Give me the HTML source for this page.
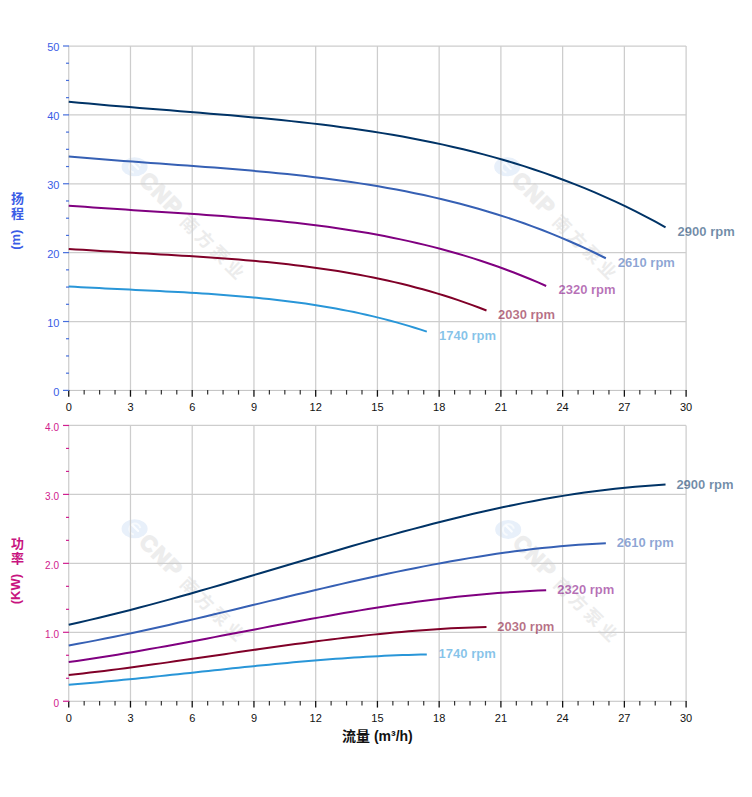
<!DOCTYPE html><html><head><meta charset="utf-8"><style>html,body{margin:0;padding:0;background:#fff;}svg{display:block;}</style></head><body>
<svg width="752" height="797" viewBox="0 0 752 797" font-family="'Liberation Sans', Arial, sans-serif">
<rect width="752" height="797" fill="#fff"/>
<g transform="translate(134.6 166.8) rotate(45)"><ellipse cx="0" cy="0" rx="13" ry="9.5" transform="rotate(-45)" fill="#e8f0fa"/><path d="M3.5 -4.5 A5.5 5.5 0 1 0 3.5 4.5" fill="none" stroke="#f7fafd" stroke-width="2"/><path d="M-4 -1 L4 -1" stroke="#fbfdff" stroke-width="2.2" stroke-linecap="round"/><text x="12.8" y="7.8" font-size="22" font-weight="bold" fill="#ededed" stroke="#ededed" stroke-width="1.4" letter-spacing="1.4">CNP</text><text x="71" y="8.2" font-size="17.5" font-weight="bold" fill="#ececec" letter-spacing="3.8" font-family="'Liberation Sans', 'Noto Sans CJK SC', sans-serif">南方泵业</text></g>
<g transform="translate(507.2 166.8) rotate(45)"><ellipse cx="0" cy="0" rx="13" ry="9.5" transform="rotate(-45)" fill="#e8f0fa"/><path d="M3.5 -4.5 A5.5 5.5 0 1 0 3.5 4.5" fill="none" stroke="#f7fafd" stroke-width="2"/><path d="M-4 -1 L4 -1" stroke="#fbfdff" stroke-width="2.2" stroke-linecap="round"/><text x="12.8" y="7.8" font-size="22" font-weight="bold" fill="#ededed" stroke="#ededed" stroke-width="1.4" letter-spacing="1.4">CNP</text><text x="71" y="8.2" font-size="17.5" font-weight="bold" fill="#ececec" letter-spacing="3.8" font-family="'Liberation Sans', 'Noto Sans CJK SC', sans-serif">南方泵业</text></g>
<g transform="translate(134.6 528.8) rotate(45)"><ellipse cx="0" cy="0" rx="13" ry="9.5" transform="rotate(-45)" fill="#e8f0fa"/><path d="M3.5 -4.5 A5.5 5.5 0 1 0 3.5 4.5" fill="none" stroke="#f7fafd" stroke-width="2"/><path d="M-4 -1 L4 -1" stroke="#fbfdff" stroke-width="2.2" stroke-linecap="round"/><text x="12.8" y="7.8" font-size="22" font-weight="bold" fill="#ededed" stroke="#ededed" stroke-width="1.4" letter-spacing="1.4">CNP</text><text x="71" y="8.2" font-size="17.5" font-weight="bold" fill="#ececec" letter-spacing="3.8" font-family="'Liberation Sans', 'Noto Sans CJK SC', sans-serif">南方泵业</text></g>
<g transform="translate(508.2 529.4) rotate(45)"><ellipse cx="0" cy="0" rx="13" ry="9.5" transform="rotate(-45)" fill="#e8f0fa"/><path d="M3.5 -4.5 A5.5 5.5 0 1 0 3.5 4.5" fill="none" stroke="#f7fafd" stroke-width="2"/><path d="M-4 -1 L4 -1" stroke="#fbfdff" stroke-width="2.2" stroke-linecap="round"/><text x="12.8" y="7.8" font-size="22" font-weight="bold" fill="#ededed" stroke="#ededed" stroke-width="1.4" letter-spacing="1.4">CNP</text><text x="71" y="8.2" font-size="17.5" font-weight="bold" fill="#ececec" letter-spacing="3.8" font-family="'Liberation Sans', 'Noto Sans CJK SC', sans-serif">南方泵业</text></g>
<g>
<line x1="68.74" y1="46.00" x2="68.74" y2="390.40" stroke="#cdcdcd" stroke-width="1.25"/>
<line x1="130.48" y1="46.00" x2="130.48" y2="390.40" stroke="#cdcdcd" stroke-width="1.25"/>
<line x1="192.21" y1="46.00" x2="192.21" y2="390.40" stroke="#cdcdcd" stroke-width="1.25"/>
<line x1="253.95" y1="46.00" x2="253.95" y2="390.40" stroke="#cdcdcd" stroke-width="1.25"/>
<line x1="315.69" y1="46.00" x2="315.69" y2="390.40" stroke="#cdcdcd" stroke-width="1.25"/>
<line x1="377.43" y1="46.00" x2="377.43" y2="390.40" stroke="#cdcdcd" stroke-width="1.25"/>
<line x1="439.16" y1="46.00" x2="439.16" y2="390.40" stroke="#cdcdcd" stroke-width="1.25"/>
<line x1="500.90" y1="46.00" x2="500.90" y2="390.40" stroke="#cdcdcd" stroke-width="1.25"/>
<line x1="562.64" y1="46.00" x2="562.64" y2="390.40" stroke="#cdcdcd" stroke-width="1.25"/>
<line x1="624.37" y1="46.00" x2="624.37" y2="390.40" stroke="#cdcdcd" stroke-width="1.25"/>
<line x1="686.11" y1="46.00" x2="686.11" y2="390.40" stroke="#cdcdcd" stroke-width="1.25"/>
<line x1="68.74" y1="321.52" x2="686.11" y2="321.52" stroke="#cdcdcd" stroke-width="1.25"/>
<line x1="68.74" y1="252.64" x2="686.11" y2="252.64" stroke="#cdcdcd" stroke-width="1.25"/>
<line x1="68.74" y1="183.76" x2="686.11" y2="183.76" stroke="#cdcdcd" stroke-width="1.25"/>
<line x1="68.74" y1="114.88" x2="686.11" y2="114.88" stroke="#cdcdcd" stroke-width="1.25"/>
<line x1="68.74" y1="46.00" x2="686.11" y2="46.00" stroke="#cdcdcd" stroke-width="1.25"/>
<line x1="68.74" y1="425.45" x2="68.74" y2="701.25" stroke="#cdcdcd" stroke-width="1.25"/>
<line x1="130.48" y1="425.45" x2="130.48" y2="701.25" stroke="#cdcdcd" stroke-width="1.25"/>
<line x1="192.21" y1="425.45" x2="192.21" y2="701.25" stroke="#cdcdcd" stroke-width="1.25"/>
<line x1="253.95" y1="425.45" x2="253.95" y2="701.25" stroke="#cdcdcd" stroke-width="1.25"/>
<line x1="315.69" y1="425.45" x2="315.69" y2="701.25" stroke="#cdcdcd" stroke-width="1.25"/>
<line x1="377.43" y1="425.45" x2="377.43" y2="701.25" stroke="#cdcdcd" stroke-width="1.25"/>
<line x1="439.16" y1="425.45" x2="439.16" y2="701.25" stroke="#cdcdcd" stroke-width="1.25"/>
<line x1="500.90" y1="425.45" x2="500.90" y2="701.25" stroke="#cdcdcd" stroke-width="1.25"/>
<line x1="562.64" y1="425.45" x2="562.64" y2="701.25" stroke="#cdcdcd" stroke-width="1.25"/>
<line x1="624.37" y1="425.45" x2="624.37" y2="701.25" stroke="#cdcdcd" stroke-width="1.25"/>
<line x1="686.11" y1="425.45" x2="686.11" y2="701.25" stroke="#cdcdcd" stroke-width="1.25"/>
<line x1="68.74" y1="632.30" x2="686.11" y2="632.30" stroke="#cdcdcd" stroke-width="1.25"/>
<line x1="68.74" y1="563.35" x2="686.11" y2="563.35" stroke="#cdcdcd" stroke-width="1.25"/>
<line x1="68.74" y1="494.40" x2="686.11" y2="494.40" stroke="#cdcdcd" stroke-width="1.25"/>
<line x1="68.74" y1="425.45" x2="686.11" y2="425.45" stroke="#cdcdcd" stroke-width="1.25"/>
</g>
<line x1="68.74" y1="390.40" x2="686.61" y2="390.40" stroke="#c0c0c0"/>
<line x1="68.74" y1="390.10" x2="68.74" y2="396.70" stroke="#111" stroke-width="1.3"/>
<line x1="84.17" y1="390.10" x2="84.17" y2="394.60" stroke="#333" stroke-width="1.2"/>
<line x1="99.61" y1="390.10" x2="99.61" y2="394.60" stroke="#333" stroke-width="1.2"/>
<line x1="115.04" y1="390.10" x2="115.04" y2="394.60" stroke="#333" stroke-width="1.2"/>
<line x1="130.48" y1="390.10" x2="130.48" y2="396.70" stroke="#111" stroke-width="1.3"/>
<line x1="145.91" y1="390.10" x2="145.91" y2="394.60" stroke="#333" stroke-width="1.2"/>
<line x1="161.35" y1="390.10" x2="161.35" y2="394.60" stroke="#333" stroke-width="1.2"/>
<line x1="176.78" y1="390.10" x2="176.78" y2="394.60" stroke="#333" stroke-width="1.2"/>
<line x1="192.21" y1="390.10" x2="192.21" y2="396.70" stroke="#111" stroke-width="1.3"/>
<line x1="207.65" y1="390.10" x2="207.65" y2="394.60" stroke="#333" stroke-width="1.2"/>
<line x1="223.08" y1="390.10" x2="223.08" y2="394.60" stroke="#333" stroke-width="1.2"/>
<line x1="238.52" y1="390.10" x2="238.52" y2="394.60" stroke="#333" stroke-width="1.2"/>
<line x1="253.95" y1="390.10" x2="253.95" y2="396.70" stroke="#111" stroke-width="1.3"/>
<line x1="269.39" y1="390.10" x2="269.39" y2="394.60" stroke="#333" stroke-width="1.2"/>
<line x1="284.82" y1="390.10" x2="284.82" y2="394.60" stroke="#333" stroke-width="1.2"/>
<line x1="300.25" y1="390.10" x2="300.25" y2="394.60" stroke="#333" stroke-width="1.2"/>
<line x1="315.69" y1="390.10" x2="315.69" y2="396.70" stroke="#111" stroke-width="1.3"/>
<line x1="331.12" y1="390.10" x2="331.12" y2="394.60" stroke="#333" stroke-width="1.2"/>
<line x1="346.56" y1="390.10" x2="346.56" y2="394.60" stroke="#333" stroke-width="1.2"/>
<line x1="361.99" y1="390.10" x2="361.99" y2="394.60" stroke="#333" stroke-width="1.2"/>
<line x1="377.43" y1="390.10" x2="377.43" y2="396.70" stroke="#111" stroke-width="1.3"/>
<line x1="392.86" y1="390.10" x2="392.86" y2="394.60" stroke="#333" stroke-width="1.2"/>
<line x1="408.29" y1="390.10" x2="408.29" y2="394.60" stroke="#333" stroke-width="1.2"/>
<line x1="423.73" y1="390.10" x2="423.73" y2="394.60" stroke="#333" stroke-width="1.2"/>
<line x1="439.16" y1="390.10" x2="439.16" y2="396.70" stroke="#111" stroke-width="1.3"/>
<line x1="454.60" y1="390.10" x2="454.60" y2="394.60" stroke="#333" stroke-width="1.2"/>
<line x1="470.03" y1="390.10" x2="470.03" y2="394.60" stroke="#333" stroke-width="1.2"/>
<line x1="485.46" y1="390.10" x2="485.46" y2="394.60" stroke="#333" stroke-width="1.2"/>
<line x1="500.90" y1="390.10" x2="500.90" y2="396.70" stroke="#111" stroke-width="1.3"/>
<line x1="516.33" y1="390.10" x2="516.33" y2="394.60" stroke="#333" stroke-width="1.2"/>
<line x1="531.77" y1="390.10" x2="531.77" y2="394.60" stroke="#333" stroke-width="1.2"/>
<line x1="547.20" y1="390.10" x2="547.20" y2="394.60" stroke="#333" stroke-width="1.2"/>
<line x1="562.64" y1="390.10" x2="562.64" y2="396.70" stroke="#111" stroke-width="1.3"/>
<line x1="578.07" y1="390.10" x2="578.07" y2="394.60" stroke="#333" stroke-width="1.2"/>
<line x1="593.50" y1="390.10" x2="593.50" y2="394.60" stroke="#333" stroke-width="1.2"/>
<line x1="608.94" y1="390.10" x2="608.94" y2="394.60" stroke="#333" stroke-width="1.2"/>
<line x1="624.37" y1="390.10" x2="624.37" y2="396.70" stroke="#111" stroke-width="1.3"/>
<line x1="639.81" y1="390.10" x2="639.81" y2="394.60" stroke="#333" stroke-width="1.2"/>
<line x1="655.24" y1="390.10" x2="655.24" y2="394.60" stroke="#333" stroke-width="1.2"/>
<line x1="670.68" y1="390.10" x2="670.68" y2="394.60" stroke="#333" stroke-width="1.2"/>
<line x1="686.11" y1="390.10" x2="686.11" y2="396.70" stroke="#111" stroke-width="1.3"/>
<line x1="68.74" y1="701.25" x2="686.61" y2="701.25" stroke="#c0c0c0"/>
<line x1="68.74" y1="700.95" x2="68.74" y2="707.55" stroke="#111" stroke-width="1.3"/>
<line x1="84.17" y1="700.95" x2="84.17" y2="705.45" stroke="#333" stroke-width="1.2"/>
<line x1="99.61" y1="700.95" x2="99.61" y2="705.45" stroke="#333" stroke-width="1.2"/>
<line x1="115.04" y1="700.95" x2="115.04" y2="705.45" stroke="#333" stroke-width="1.2"/>
<line x1="130.48" y1="700.95" x2="130.48" y2="707.55" stroke="#111" stroke-width="1.3"/>
<line x1="145.91" y1="700.95" x2="145.91" y2="705.45" stroke="#333" stroke-width="1.2"/>
<line x1="161.35" y1="700.95" x2="161.35" y2="705.45" stroke="#333" stroke-width="1.2"/>
<line x1="176.78" y1="700.95" x2="176.78" y2="705.45" stroke="#333" stroke-width="1.2"/>
<line x1="192.21" y1="700.95" x2="192.21" y2="707.55" stroke="#111" stroke-width="1.3"/>
<line x1="207.65" y1="700.95" x2="207.65" y2="705.45" stroke="#333" stroke-width="1.2"/>
<line x1="223.08" y1="700.95" x2="223.08" y2="705.45" stroke="#333" stroke-width="1.2"/>
<line x1="238.52" y1="700.95" x2="238.52" y2="705.45" stroke="#333" stroke-width="1.2"/>
<line x1="253.95" y1="700.95" x2="253.95" y2="707.55" stroke="#111" stroke-width="1.3"/>
<line x1="269.39" y1="700.95" x2="269.39" y2="705.45" stroke="#333" stroke-width="1.2"/>
<line x1="284.82" y1="700.95" x2="284.82" y2="705.45" stroke="#333" stroke-width="1.2"/>
<line x1="300.25" y1="700.95" x2="300.25" y2="705.45" stroke="#333" stroke-width="1.2"/>
<line x1="315.69" y1="700.95" x2="315.69" y2="707.55" stroke="#111" stroke-width="1.3"/>
<line x1="331.12" y1="700.95" x2="331.12" y2="705.45" stroke="#333" stroke-width="1.2"/>
<line x1="346.56" y1="700.95" x2="346.56" y2="705.45" stroke="#333" stroke-width="1.2"/>
<line x1="361.99" y1="700.95" x2="361.99" y2="705.45" stroke="#333" stroke-width="1.2"/>
<line x1="377.43" y1="700.95" x2="377.43" y2="707.55" stroke="#111" stroke-width="1.3"/>
<line x1="392.86" y1="700.95" x2="392.86" y2="705.45" stroke="#333" stroke-width="1.2"/>
<line x1="408.29" y1="700.95" x2="408.29" y2="705.45" stroke="#333" stroke-width="1.2"/>
<line x1="423.73" y1="700.95" x2="423.73" y2="705.45" stroke="#333" stroke-width="1.2"/>
<line x1="439.16" y1="700.95" x2="439.16" y2="707.55" stroke="#111" stroke-width="1.3"/>
<line x1="454.60" y1="700.95" x2="454.60" y2="705.45" stroke="#333" stroke-width="1.2"/>
<line x1="470.03" y1="700.95" x2="470.03" y2="705.45" stroke="#333" stroke-width="1.2"/>
<line x1="485.46" y1="700.95" x2="485.46" y2="705.45" stroke="#333" stroke-width="1.2"/>
<line x1="500.90" y1="700.95" x2="500.90" y2="707.55" stroke="#111" stroke-width="1.3"/>
<line x1="516.33" y1="700.95" x2="516.33" y2="705.45" stroke="#333" stroke-width="1.2"/>
<line x1="531.77" y1="700.95" x2="531.77" y2="705.45" stroke="#333" stroke-width="1.2"/>
<line x1="547.20" y1="700.95" x2="547.20" y2="705.45" stroke="#333" stroke-width="1.2"/>
<line x1="562.64" y1="700.95" x2="562.64" y2="707.55" stroke="#111" stroke-width="1.3"/>
<line x1="578.07" y1="700.95" x2="578.07" y2="705.45" stroke="#333" stroke-width="1.2"/>
<line x1="593.50" y1="700.95" x2="593.50" y2="705.45" stroke="#333" stroke-width="1.2"/>
<line x1="608.94" y1="700.95" x2="608.94" y2="705.45" stroke="#333" stroke-width="1.2"/>
<line x1="624.37" y1="700.95" x2="624.37" y2="707.55" stroke="#111" stroke-width="1.3"/>
<line x1="639.81" y1="700.95" x2="639.81" y2="705.45" stroke="#333" stroke-width="1.2"/>
<line x1="655.24" y1="700.95" x2="655.24" y2="705.45" stroke="#333" stroke-width="1.2"/>
<line x1="670.68" y1="700.95" x2="670.68" y2="705.45" stroke="#333" stroke-width="1.2"/>
<line x1="686.11" y1="700.95" x2="686.11" y2="707.55" stroke="#111" stroke-width="1.3"/>
<line x1="63" y1="390.40" x2="69" y2="390.40" stroke="#466edc" stroke-width="1.2"/>
<line x1="66" y1="373.18" x2="69" y2="373.18" stroke="#466edc" stroke-width="1.2"/>
<line x1="66" y1="355.96" x2="69" y2="355.96" stroke="#466edc" stroke-width="1.2"/>
<line x1="66" y1="338.74" x2="69" y2="338.74" stroke="#466edc" stroke-width="1.2"/>
<line x1="63" y1="321.52" x2="69" y2="321.52" stroke="#466edc" stroke-width="1.2"/>
<line x1="66" y1="304.30" x2="69" y2="304.30" stroke="#466edc" stroke-width="1.2"/>
<line x1="66" y1="287.08" x2="69" y2="287.08" stroke="#466edc" stroke-width="1.2"/>
<line x1="66" y1="269.86" x2="69" y2="269.86" stroke="#466edc" stroke-width="1.2"/>
<line x1="63" y1="252.64" x2="69" y2="252.64" stroke="#466edc" stroke-width="1.2"/>
<line x1="66" y1="235.42" x2="69" y2="235.42" stroke="#466edc" stroke-width="1.2"/>
<line x1="66" y1="218.20" x2="69" y2="218.20" stroke="#466edc" stroke-width="1.2"/>
<line x1="66" y1="200.98" x2="69" y2="200.98" stroke="#466edc" stroke-width="1.2"/>
<line x1="63" y1="183.76" x2="69" y2="183.76" stroke="#466edc" stroke-width="1.2"/>
<line x1="66" y1="166.54" x2="69" y2="166.54" stroke="#466edc" stroke-width="1.2"/>
<line x1="66" y1="149.32" x2="69" y2="149.32" stroke="#466edc" stroke-width="1.2"/>
<line x1="66" y1="132.10" x2="69" y2="132.10" stroke="#466edc" stroke-width="1.2"/>
<line x1="63" y1="114.88" x2="69" y2="114.88" stroke="#466edc" stroke-width="1.2"/>
<line x1="66" y1="97.66" x2="69" y2="97.66" stroke="#466edc" stroke-width="1.2"/>
<line x1="66" y1="80.44" x2="69" y2="80.44" stroke="#466edc" stroke-width="1.2"/>
<line x1="66" y1="63.22" x2="69" y2="63.22" stroke="#466edc" stroke-width="1.2"/>
<line x1="63" y1="46.00" x2="69" y2="46.00" stroke="#466edc" stroke-width="1.2"/>
<line x1="63" y1="701.25" x2="69" y2="701.25" stroke="#d02090" stroke-width="1.2"/>
<line x1="66" y1="678.27" x2="69" y2="678.27" stroke="#d02090" stroke-width="1.2"/>
<line x1="66" y1="655.28" x2="69" y2="655.28" stroke="#d02090" stroke-width="1.2"/>
<line x1="63" y1="632.30" x2="69" y2="632.30" stroke="#d02090" stroke-width="1.2"/>
<line x1="66" y1="609.32" x2="69" y2="609.32" stroke="#d02090" stroke-width="1.2"/>
<line x1="66" y1="586.33" x2="69" y2="586.33" stroke="#d02090" stroke-width="1.2"/>
<line x1="63" y1="563.35" x2="69" y2="563.35" stroke="#d02090" stroke-width="1.2"/>
<line x1="66" y1="540.37" x2="69" y2="540.37" stroke="#d02090" stroke-width="1.2"/>
<line x1="66" y1="517.38" x2="69" y2="517.38" stroke="#d02090" stroke-width="1.2"/>
<line x1="63" y1="494.40" x2="69" y2="494.40" stroke="#d02090" stroke-width="1.2"/>
<line x1="66" y1="471.42" x2="69" y2="471.42" stroke="#d02090" stroke-width="1.2"/>
<line x1="66" y1="448.43" x2="69" y2="448.43" stroke="#d02090" stroke-width="1.2"/>
<line x1="63" y1="425.45" x2="69" y2="425.45" stroke="#d02090" stroke-width="1.2"/>
<text x="68.74" y="411" font-size="11" text-anchor="middle" fill="#111">0</text>
<text x="68.74" y="722" font-size="11" text-anchor="middle" fill="#111">0</text>
<text x="130.48" y="411" font-size="11" text-anchor="middle" fill="#111">3</text>
<text x="130.48" y="722" font-size="11" text-anchor="middle" fill="#111">3</text>
<text x="192.21" y="411" font-size="11" text-anchor="middle" fill="#111">6</text>
<text x="192.21" y="722" font-size="11" text-anchor="middle" fill="#111">6</text>
<text x="253.95" y="411" font-size="11" text-anchor="middle" fill="#111">9</text>
<text x="253.95" y="722" font-size="11" text-anchor="middle" fill="#111">9</text>
<text x="315.69" y="411" font-size="11" text-anchor="middle" fill="#111">12</text>
<text x="315.69" y="722" font-size="11" text-anchor="middle" fill="#111">12</text>
<text x="377.43" y="411" font-size="11" text-anchor="middle" fill="#111">15</text>
<text x="377.43" y="722" font-size="11" text-anchor="middle" fill="#111">15</text>
<text x="439.16" y="411" font-size="11" text-anchor="middle" fill="#111">18</text>
<text x="439.16" y="722" font-size="11" text-anchor="middle" fill="#111">18</text>
<text x="500.90" y="411" font-size="11" text-anchor="middle" fill="#111">21</text>
<text x="500.90" y="722" font-size="11" text-anchor="middle" fill="#111">21</text>
<text x="562.64" y="411" font-size="11" text-anchor="middle" fill="#111">24</text>
<text x="562.64" y="722" font-size="11" text-anchor="middle" fill="#111">24</text>
<text x="624.37" y="411" font-size="11" text-anchor="middle" fill="#111">27</text>
<text x="624.37" y="722" font-size="11" text-anchor="middle" fill="#111">27</text>
<text x="686.11" y="411" font-size="11" text-anchor="middle" fill="#111">30</text>
<text x="686.11" y="722" font-size="11" text-anchor="middle" fill="#111">30</text>
<text x="59.4" y="395.70" font-size="11" text-anchor="end" fill="#3a5ce6">0</text>
<text x="59.4" y="326.82" font-size="11" text-anchor="end" fill="#3a5ce6">10</text>
<text x="59.4" y="257.94" font-size="11" text-anchor="end" fill="#3a5ce6">20</text>
<text x="59.4" y="189.06" font-size="11" text-anchor="end" fill="#3a5ce6">30</text>
<text x="59.4" y="120.18" font-size="11" text-anchor="end" fill="#3a5ce6">40</text>
<text x="59.4" y="51.30" font-size="11" text-anchor="end" fill="#3a5ce6">50</text>
<text x="59" y="706.55" font-size="10" text-anchor="end" fill="#d0208c">0</text>
<text x="59" y="637.60" font-size="10" text-anchor="end" fill="#d0208c">1.0</text>
<text x="59" y="568.65" font-size="10" text-anchor="end" fill="#d0208c">2.0</text>
<text x="59" y="499.70" font-size="10" text-anchor="end" fill="#d0208c">3.0</text>
<text x="59" y="430.75" font-size="10" text-anchor="end" fill="#d0208c">4.0</text>
<path d="M68.74 101.69 L78.86 102.66 L88.97 103.60 L99.09 104.51 L109.20 105.39 L119.32 106.26 L129.43 107.10 L139.55 107.93 L149.66 108.75 L159.78 109.56 L169.89 110.37 L180.01 111.18 L190.12 111.99 L200.24 112.81 L210.35 113.64 L220.47 114.49 L230.58 115.35 L240.70 116.23 L250.81 117.15 L260.93 118.09 L271.04 119.06 L281.16 120.07 L291.27 121.13 L301.39 122.23 L311.50 123.37 L321.62 124.58 L331.73 125.84 L341.85 127.16 L351.96 128.54 L362.08 130.00 L372.19 131.53 L382.31 133.13 L392.42 134.82 L402.54 136.60 L412.65 138.46 L422.77 140.42 L432.88 142.48 L443.00 144.64 L453.11 146.91 L463.23 149.29 L473.34 151.79 L483.46 154.40 L493.57 157.15 L503.69 160.02 L513.80 163.02 L523.92 166.17 L534.03 169.45 L544.15 172.89 L554.26 176.47 L564.38 180.21 L574.50 184.12 L584.61 188.18 L594.73 192.42 L604.84 196.84 L614.96 201.43 L625.07 206.21 L635.19 211.18 L645.30 216.34 L655.42 221.70 L665.53 227.26" fill="none" stroke="#003366" stroke-width="2" stroke-linejoin="round"/>
<path d="M68.74 156.55 L77.84 157.33 L86.95 158.09 L96.05 158.83 L105.15 159.54 L114.26 160.24 L123.36 160.93 L132.47 161.60 L141.57 162.26 L150.67 162.92 L159.78 163.58 L168.88 164.23 L177.98 164.89 L187.09 165.55 L196.19 166.23 L205.29 166.91 L214.40 167.61 L223.50 168.33 L232.60 169.06 L241.71 169.83 L250.81 170.62 L259.92 171.44 L269.02 172.29 L278.12 173.18 L287.23 174.11 L296.33 175.08 L305.43 176.10 L314.54 177.17 L323.64 178.29 L332.74 179.47 L341.85 180.71 L350.95 182.01 L360.05 183.38 L369.16 184.82 L378.26 186.33 L387.37 187.92 L396.47 189.58 L405.57 191.33 L414.68 193.17 L423.78 195.10 L432.88 197.12 L441.99 199.24 L451.09 201.46 L460.19 203.79 L469.30 206.22 L478.40 208.77 L487.51 211.43 L496.61 214.21 L505.71 217.12 L514.82 220.15 L523.92 223.31 L533.02 226.61 L542.13 230.04 L551.23 233.61 L560.33 237.34 L569.44 241.21 L578.54 245.23 L587.64 249.41 L596.75 253.75 L605.85 258.26" fill="none" stroke="#3660b4" stroke-width="2" stroke-linejoin="round"/>
<path d="M68.74 205.63 L76.83 206.25 L84.92 206.85 L93.02 207.43 L101.11 208.00 L109.20 208.55 L117.29 209.09 L125.38 209.62 L133.48 210.14 L141.57 210.66 L149.66 211.18 L157.75 211.70 L165.84 212.22 L173.94 212.74 L182.03 213.27 L190.12 213.82 L198.21 214.37 L206.31 214.93 L214.40 215.52 L222.49 216.12 L230.58 216.74 L238.67 217.39 L246.77 218.07 L254.86 218.77 L262.95 219.50 L271.04 220.27 L279.13 221.08 L287.23 221.92 L295.32 222.81 L303.41 223.74 L311.50 224.72 L319.59 225.75 L327.69 226.83 L335.78 227.97 L343.87 229.16 L351.96 230.41 L360.05 231.73 L368.15 233.11 L376.24 234.57 L384.33 236.09 L392.42 237.69 L400.52 239.36 L408.61 241.12 L416.70 242.95 L424.79 244.88 L432.88 246.89 L440.98 248.99 L449.07 251.19 L457.16 253.49 L465.25 255.88 L473.34 258.38 L481.44 260.98 L489.53 263.69 L497.62 266.52 L505.71 269.46 L513.80 272.52 L521.90 275.70 L529.99 279.00 L538.08 282.43 L546.17 285.99" fill="none" stroke="#800080" stroke-width="2" stroke-linejoin="round"/>
<path d="M68.74 248.93 L75.82 249.41 L82.90 249.87 L89.98 250.31 L97.06 250.75 L104.14 251.17 L111.22 251.58 L118.30 251.99 L125.38 252.39 L132.47 252.79 L139.55 253.19 L146.63 253.58 L153.71 253.98 L160.79 254.38 L167.87 254.79 L174.95 255.20 L182.03 255.63 L189.11 256.06 L196.19 256.51 L203.27 256.97 L210.35 257.44 L217.43 257.94 L224.51 258.46 L231.59 258.99 L238.67 259.56 L245.75 260.15 L252.83 260.76 L259.92 261.41 L267.00 262.09 L274.08 262.80 L281.16 263.55 L288.24 264.34 L295.32 265.17 L302.40 266.04 L309.48 266.95 L316.56 267.91 L323.64 268.92 L330.72 269.98 L337.80 271.09 L344.88 272.26 L351.96 273.48 L359.04 274.76 L366.12 276.11 L373.20 277.51 L380.29 278.98 L387.37 280.53 L394.45 282.14 L401.53 283.82 L408.61 285.57 L415.69 287.41 L422.77 289.32 L429.85 291.31 L436.93 293.39 L444.01 295.55 L451.09 297.81 L458.17 300.15 L465.25 302.58 L472.33 305.11 L479.41 307.74 L486.49 310.46" fill="none" stroke="#800028" stroke-width="2" stroke-linejoin="round"/>
<path d="M68.74 286.46 L74.81 286.81 L80.88 287.15 L86.95 287.48 L93.02 287.80 L99.09 288.11 L105.15 288.41 L111.22 288.71 L117.29 289.01 L123.36 289.30 L129.43 289.59 L135.50 289.88 L141.57 290.17 L147.64 290.47 L153.71 290.77 L159.78 291.07 L165.84 291.38 L171.91 291.70 L177.98 292.03 L184.05 292.37 L190.12 292.72 L196.19 293.08 L202.26 293.46 L208.33 293.86 L214.40 294.27 L220.47 294.70 L226.54 295.16 L232.60 295.63 L238.67 296.13 L244.74 296.65 L250.81 297.21 L256.88 297.78 L262.95 298.39 L269.02 299.03 L275.09 299.70 L281.16 300.41 L287.23 301.15 L293.30 301.93 L299.36 302.74 L305.43 303.60 L311.50 304.50 L317.57 305.44 L323.64 306.43 L329.71 307.46 L335.78 308.54 L341.85 309.68 L347.92 310.86 L353.99 312.09 L360.05 313.39 L366.12 314.73 L372.19 316.14 L378.26 317.60 L384.33 319.13 L390.40 320.72 L396.47 322.37 L402.54 324.09 L408.61 325.88 L414.68 327.74 L420.75 329.67 L426.81 331.67" fill="none" stroke="#2996d8" stroke-width="2" stroke-linejoin="round"/>
<path d="M68.74 624.70 L78.86 622.46 L88.97 620.15 L99.09 617.76 L109.20 615.31 L119.32 612.79 L129.43 610.21 L139.55 607.57 L149.66 604.89 L159.78 602.15 L169.89 599.37 L180.01 596.55 L190.12 593.70 L200.24 590.81 L210.35 587.89 L220.47 584.94 L230.58 581.98 L240.70 578.99 L250.81 576.00 L260.93 572.99 L271.04 569.97 L281.16 566.96 L291.27 563.94 L301.39 560.93 L311.50 557.92 L321.62 554.93 L331.73 551.95 L341.85 548.99 L351.96 546.05 L362.08 543.14 L372.19 540.26 L382.31 537.41 L392.42 534.60 L402.54 531.83 L412.65 529.10 L422.77 526.41 L432.88 523.78 L443.00 521.20 L453.11 518.68 L463.23 516.21 L473.34 513.81 L483.46 511.48 L493.57 509.22 L503.69 507.03 L513.80 504.92 L523.92 502.88 L534.03 500.94 L544.15 499.07 L554.26 497.30 L564.38 495.62 L574.50 494.03 L584.61 492.55 L594.73 491.17 L604.84 489.89 L614.96 488.72 L625.07 487.66 L635.19 486.72 L645.30 485.89 L655.42 485.18 L665.53 484.60" fill="none" stroke="#003366" stroke-width="2" stroke-linejoin="round"/>
<path d="M68.74 645.45 L77.84 643.82 L86.95 642.13 L96.05 640.39 L105.15 638.60 L114.26 636.76 L123.36 634.88 L132.47 632.96 L141.57 631.00 L150.67 629.01 L159.78 626.98 L168.88 624.93 L177.98 622.84 L187.09 620.74 L196.19 618.61 L205.29 616.46 L214.40 614.30 L223.50 612.12 L232.60 609.94 L241.71 607.75 L250.81 605.55 L259.92 603.35 L269.02 601.15 L278.12 598.95 L287.23 596.76 L296.33 594.58 L305.43 592.41 L314.54 590.25 L323.64 588.11 L332.74 585.99 L341.85 583.89 L350.95 581.81 L360.05 579.76 L369.16 577.74 L378.26 575.75 L387.37 573.79 L396.47 571.87 L405.57 569.99 L414.68 568.15 L423.78 566.36 L432.88 564.61 L441.99 562.91 L451.09 561.26 L460.19 559.66 L469.30 558.12 L478.40 556.64 L487.51 555.22 L496.61 553.86 L505.71 552.57 L514.82 551.34 L523.92 550.19 L533.02 549.11 L542.13 548.10 L551.23 547.17 L560.33 546.31 L569.44 545.54 L578.54 544.85 L587.64 544.25 L596.75 543.74 L605.85 543.31" fill="none" stroke="#3660b4" stroke-width="2" stroke-linejoin="round"/>
<path d="M68.74 662.06 L76.83 660.91 L84.92 659.73 L93.02 658.50 L101.11 657.25 L109.20 655.96 L117.29 654.64 L125.38 653.29 L133.48 651.91 L141.57 650.51 L149.66 649.09 L157.75 647.64 L165.84 646.18 L173.94 644.70 L182.03 643.21 L190.12 641.70 L198.21 640.18 L206.31 638.65 L214.40 637.12 L222.49 635.58 L230.58 634.04 L238.67 632.49 L246.77 630.95 L254.86 629.40 L262.95 627.87 L271.04 626.33 L279.13 624.81 L287.23 623.29 L295.32 621.79 L303.41 620.30 L311.50 618.82 L319.59 617.36 L327.69 615.92 L335.78 614.50 L343.87 613.11 L351.96 611.73 L360.05 610.38 L368.15 609.06 L376.24 607.77 L384.33 606.51 L392.42 605.28 L400.52 604.09 L408.61 602.93 L416.70 601.81 L424.79 600.73 L432.88 599.69 L440.98 598.69 L449.07 597.74 L457.16 596.83 L465.25 595.97 L473.34 595.16 L481.44 594.39 L489.53 593.69 L497.62 593.03 L505.71 592.43 L513.80 591.89 L521.90 591.41 L529.99 590.99 L538.08 590.62 L546.17 590.33" fill="none" stroke="#800080" stroke-width="2" stroke-linejoin="round"/>
<path d="M68.74 674.99 L75.82 674.23 L82.90 673.43 L89.98 672.61 L97.06 671.77 L104.14 670.91 L111.22 670.02 L118.30 669.12 L125.38 668.20 L132.47 667.26 L139.55 666.31 L146.63 665.34 L153.71 664.36 L160.79 663.37 L167.87 662.37 L174.95 661.36 L182.03 660.34 L189.11 659.32 L196.19 658.29 L203.27 657.26 L210.35 656.22 L217.43 655.19 L224.51 654.15 L231.59 653.12 L238.67 652.09 L245.75 651.06 L252.83 650.04 L259.92 649.03 L267.00 648.02 L274.08 647.02 L281.16 646.03 L288.24 645.05 L295.32 644.09 L302.40 643.14 L309.48 642.20 L316.56 641.28 L323.64 640.38 L330.72 639.49 L337.80 638.63 L344.88 637.78 L351.96 636.96 L359.04 636.16 L366.12 635.38 L373.20 634.63 L380.29 633.91 L387.37 633.21 L394.45 632.54 L401.53 631.90 L408.61 631.29 L415.69 630.72 L422.77 630.17 L429.85 629.67 L436.93 629.19 L444.01 628.75 L451.09 628.35 L458.17 627.99 L465.25 627.66 L472.33 627.38 L479.41 627.14 L486.49 626.94" fill="none" stroke="#800028" stroke-width="2" stroke-linejoin="round"/>
<path d="M68.74 684.72 L74.81 684.23 L80.88 683.73 L86.95 683.22 L93.02 682.69 L99.09 682.14 L105.15 681.59 L111.22 681.02 L117.29 680.44 L123.36 679.84 L129.43 679.24 L135.50 678.64 L141.57 678.02 L147.64 677.39 L153.71 676.76 L159.78 676.13 L165.84 675.49 L171.91 674.84 L177.98 674.20 L184.05 673.55 L190.12 672.89 L196.19 672.24 L202.26 671.59 L208.33 670.94 L214.40 670.29 L220.47 669.64 L226.54 669.00 L232.60 668.36 L238.67 667.73 L244.74 667.10 L250.81 666.48 L256.88 665.86 L262.95 665.25 L269.02 664.65 L275.09 664.06 L281.16 663.48 L287.23 662.92 L293.30 662.36 L299.36 661.81 L305.43 661.28 L311.50 660.76 L317.57 660.26 L323.64 659.77 L329.71 659.30 L335.78 658.84 L341.85 658.40 L347.92 657.98 L353.99 657.58 L360.05 657.20 L366.12 656.83 L372.19 656.49 L378.26 656.17 L384.33 655.87 L390.40 655.60 L396.47 655.34 L402.54 655.11 L408.61 654.91 L414.68 654.73 L420.75 654.58 L426.81 654.45" fill="none" stroke="#2996d8" stroke-width="2" stroke-linejoin="round"/>
<text x="677.6" y="236.3" font-size="13" font-weight="bold" fill="#003366" fill-opacity="0.56">2900 rpm</text>
<text x="676.4" y="488.8" font-size="13" font-weight="bold" fill="#003366" fill-opacity="0.56">2900 rpm</text>
<text x="617.8" y="267.1" font-size="13" font-weight="bold" fill="#3660b4" fill-opacity="0.56">2610 rpm</text>
<text x="616.7" y="546.5" font-size="13" font-weight="bold" fill="#3660b4" fill-opacity="0.56">2610 rpm</text>
<text x="558.5" y="294.4" font-size="13" font-weight="bold" fill="#800080" fill-opacity="0.56">2320 rpm</text>
<text x="557.2" y="594.2" font-size="13" font-weight="bold" fill="#800080" fill-opacity="0.56">2320 rpm</text>
<text x="498.0" y="319.0" font-size="13" font-weight="bold" fill="#800028" fill-opacity="0.56">2030 rpm</text>
<text x="497.3" y="631.1" font-size="13" font-weight="bold" fill="#800028" fill-opacity="0.56">2030 rpm</text>
<text x="439.0" y="340.1" font-size="13" font-weight="bold" fill="#2996d8" fill-opacity="0.56">1740 rpm</text>
<text x="438.6" y="657.9" font-size="13" font-weight="bold" fill="#2996d8" fill-opacity="0.56">1740 rpm</text>
<text x="342" y="741" font-size="14" font-weight="bold" fill="#111" font-family="'Liberation Sans', 'Noto Sans CJK SC', sans-serif">流量 (m³/h)</text>
<g font-size="13" font-weight="bold" fill="#3a5ce6" font-family="'Liberation Sans', 'Noto Sans CJK SC', sans-serif">
<text x="11" y="203">扬</text><text x="11" y="218">程</text>
<text transform="translate(19.6 249.8) rotate(-90)" font-size="13">(m)</text>
</g>
<g font-size="13" font-weight="bold" fill="#c81480" font-family="'Liberation Sans', 'Noto Sans CJK SC', sans-serif">
<text x="11" y="548">功</text><text x="11" y="563">率</text>
<text transform="translate(19.6 604.3) rotate(-90)" font-size="13">(KW)</text>
</g>
</svg></body></html>
